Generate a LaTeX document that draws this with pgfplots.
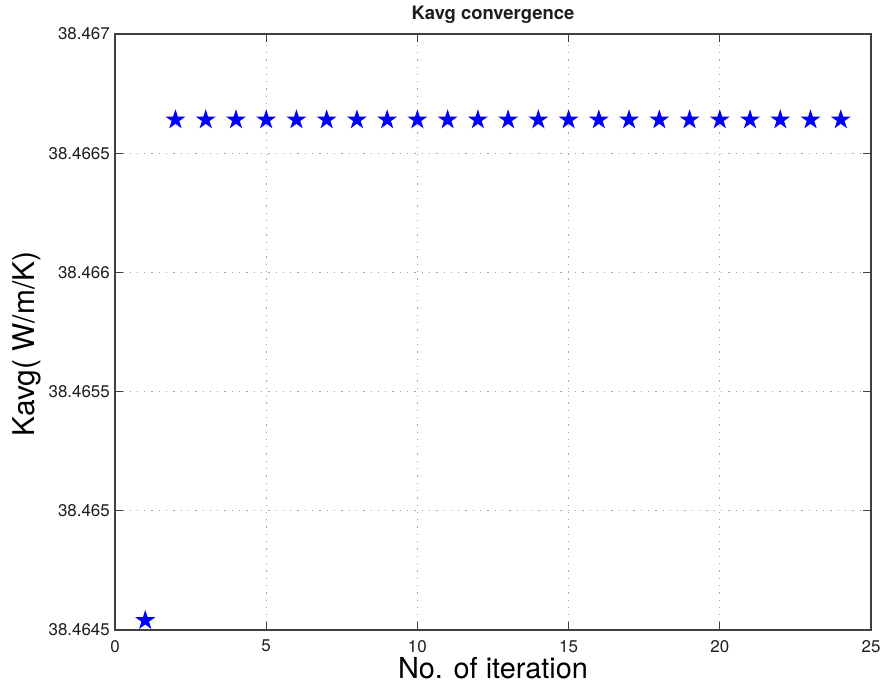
\documentclass[border=0pt]{standalone}
\usepackage{fontspec}
\setmainfont{TeX Gyre Heros}
\usepackage{pgfplots}
\pgfplotsset{compat=1.18}

% filled five-pointed star marker
\pgfdeclareplotmark{fstar}{%
  \pgfpathmoveto{\pgfpointpolar{90}{\pgfplotmarksize}}%
  \pgfpathlineto{\pgfpointpolar{126}{0.382\pgfplotmarksize}}%
  \pgfpathlineto{\pgfpointpolar{162}{\pgfplotmarksize}}%
  \pgfpathlineto{\pgfpointpolar{198}{0.382\pgfplotmarksize}}%
  \pgfpathlineto{\pgfpointpolar{234}{\pgfplotmarksize}}%
  \pgfpathlineto{\pgfpointpolar{270}{0.382\pgfplotmarksize}}%
  \pgfpathlineto{\pgfpointpolar{306}{\pgfplotmarksize}}%
  \pgfpathlineto{\pgfpointpolar{342}{0.382\pgfplotmarksize}}%
  \pgfpathlineto{\pgfpointpolar{18}{\pgfplotmarksize}}%
  \pgfpathlineto{\pgfpointpolar{54}{0.382\pgfplotmarksize}}%
  \pgfpathclose
  \pgfusepathqfill
}

\definecolor{axgray}{RGB}{64,64,64}
\definecolor{txt}{RGB}{30,30,30}

\begin{document}
\begin{tikzpicture}
\path (-115bp,-57bp) rectangle (766bp,630bp);
\begin{axis}[
  at={(0,0)}, anchor=south west,
  scale only axis, width=756bp, height=596bp,
  xmin=0, xmax=25, ymin=38.4645, ymax=38.467,
  xtick={0,5,10,15,20,25},
  ytick={38.4645,38.465,38.4655,38.466,38.4665,38.467},
  yticklabels={38.4645,38.465,38.4655,38.466,38.4665,38.467},
  scaled y ticks=false,
  /pgf/number format/assume math mode=true,
  axis line style={axgray, line width=1.3bp},
  tick style={axgray, line width=1.1bp},
  major tick length=8bp,
  tick align=inside,
  grid=major,
  major grid style={gray!70, line width=1bp, dash pattern=on 1.3bp off 6bp},
  ticklabel style={font=\fontsize{17}{20}\selectfont, text=txt},
  xticklabel style={anchor=north, inner sep=0pt, yshift=-10bp},
  yticklabel style={anchor=east, inner sep=0pt, xshift=-5bp},
  title={Kavg convergence},
  title style={font=\bfseries\fontsize{18.5}{22}\selectfont, text=txt,
    at={(axis description cs:0.5,1.0151)}, anchor=base},
  xlabel={No. of iteration},
  xlabel style={font=\fontsize{29}{34}\selectfont, text=black,
    at={(axis description cs:0.5,-0.0822)}, anchor=base},
  ylabel={Kavg( W/m/K)},
  ylabel style={font=\fontsize{30}{35}\selectfont, text=black,
    at={(axis description cs:-0.1164,0.48)}, anchor=center, rotate=0},
]
\addplot[only marks, mark=fstar, mark size=10.5bp, color=blue] coordinates {
  (1,38.46454)
  (2,38.46664) (3,38.46664) (4,38.46664) (5,38.46664) (6,38.46664)
  (7,38.46664) (8,38.46664) (9,38.46664) (10,38.46664) (11,38.46664)
  (12,38.46664) (13,38.46664) (14,38.46664) (15,38.46664) (16,38.46664)
  (17,38.46664) (18,38.46664) (19,38.46664) (20,38.46664) (21,38.46664)
  (22,38.46664) (23,38.46664) (24,38.46664)
};
\end{axis}
\end{tikzpicture}
\end{document}
